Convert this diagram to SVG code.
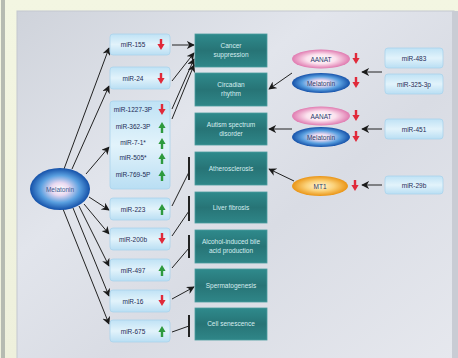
<svg xmlns="http://www.w3.org/2000/svg" width="458" height="358" viewBox="0 0 458 358">
<defs>
<linearGradient id="bg" x1="0" y1="0" x2="0" y2="1"><stop offset="0" stop-color="#f3f6e2"/><stop offset="1" stop-color="#eef0dc"/></linearGradient>
<linearGradient id="panel" x1="0" y1="0" x2="1" y2="1"><stop offset="0" stop-color="#cfd3db"/><stop offset="0.35" stop-color="#e2e5ec"/><stop offset="0.6" stop-color="#d9dce4"/><stop offset="1" stop-color="#e6e8ee"/></linearGradient>
<linearGradient id="mir" x1="0" y1="0" x2="0" y2="1"><stop offset="0" stop-color="#bfe2f5"/><stop offset="0.5" stop-color="#e2f3fb"/><stop offset="1" stop-color="#b9def3"/></linearGradient>
<linearGradient id="teal" x1="0" y1="0" x2="0" y2="1"><stop offset="0" stop-color="#2f8a8c"/><stop offset="0.5" stop-color="#277476"/><stop offset="1" stop-color="#2f8688"/></linearGradient>
<radialGradient id="blue" cx="0.5" cy="0.5" r="0.5"><stop offset="0" stop-color="#ffffff"/><stop offset="0.3" stop-color="#e9d8f0"/><stop offset="0.65" stop-color="#5aa0e0"/><stop offset="1" stop-color="#1450a8"/></radialGradient>
<radialGradient id="pink" cx="0.5" cy="0.5" r="0.5"><stop offset="0" stop-color="#ffffff"/><stop offset="0.5" stop-color="#fbe2ee"/><stop offset="1" stop-color="#e07ab0"/></radialGradient>
<radialGradient id="orange" cx="0.5" cy="0.5" r="0.5"><stop offset="0" stop-color="#fff6d8"/><stop offset="0.5" stop-color="#fbd27a"/><stop offset="1" stop-color="#ea9414"/></radialGradient>
<marker id="ah" viewBox="0 0 10 10" refX="9" refY="5" markerWidth="8" markerHeight="8" markerUnits="userSpaceOnUse" orient="auto"><path d="M0,0 L10,5 L0,10 L3,5 z" fill="#1a1a1a"/></marker>
<path id="dn" d="M-1.2,-6 h2.4 v5 h2.4 l-3.6,6 l-3.6,-6 h2.4 z"/>
<path id="up" d="M-1.2,6 h2.4 v-5 h2.4 l-3.6,-6 l-3.6,6 h2.4 z"/>
</defs>
<style>
.mirbox{fill:url(#mir);stroke:#a9d3ec;stroke-width:0.8}
.tbox{fill:url(#teal);stroke:#4a9c9e;stroke-width:0.8}
.mt{font-family:"Liberation Sans",Arial,sans-serif;font-size:6.5px;fill:#1d2b55;text-anchor:middle}
.tt{font-family:"Liberation Sans",Arial,sans-serif;font-size:6.5px;fill:#d6eef0;text-anchor:middle}
.et{font-family:"Liberation Sans",Arial,sans-serif;font-size:6.5px;fill:#2a3a6a;text-anchor:middle}
.red{fill:#e02a3a}
.grn{fill:#2e9a3e}
.c{fill:none;stroke:#222;stroke-width:1}
.a{marker-end:url(#ah)}
.bar{fill:none;stroke:#222;stroke-width:2}
</style>
<rect width="458" height="358" fill="url(#bg)"/>
<rect x="1" y="0" width="4" height="358" fill="#b6bbb2"/>
<rect x="17" y="11" width="437" height="350" fill="url(#panel)" stroke="#c4c8d0" stroke-width="1"/>
<rect x="452" y="11" width="6" height="347" fill="#c9ccd4"/>

<g id="connectors">
<path class="c a" d="M64,169 L109,48"/>
<path class="c a" d="M72,169 L109,86"/>
<path class="c a" d="M86,174 L109,147"/>
<path class="c a" d="M89,197 L109,210"/>
<path class="c a" d="M84,204 L109,234"/>
<path class="c a" d="M79,206 L109,266"/>
<path class="c a" d="M73,208 L109,296"/>
<path class="c a" d="M63,209 L109,324"/>
<path class="c a" d="M172,45 L194,45"/>
<path class="c a" d="M172,81 L194,53"/>
<path class="c a" d="M172,109 L194,59"/>
<path class="c a" d="M172,119 L194,65"/>
<path class="c" d="M172,206 L189,172"/><path class="bar" d="M189,157 V180"/>
<path class="c" d="M172,236 L189,211"/><path class="bar" d="M189,196 V221"/>
<path class="c" d="M172,268 L189,248"/><path class="bar" d="M189,235 V258"/>
<path class="c a" d="M172,299 L194,287"/>
<path class="c" d="M172,332 L189,326"/><path class="bar" d="M189,315 V337"/>
<path class="c a" d="M382,72 L362,72"/>
<path class="c a" d="M292,73 L269,89"/>
<path class="c a" d="M382,129 L362,129"/>
<path class="c a" d="M292,129 L269,129"/>
<path class="c a" d="M382,185 L362,185"/>
<path class="c a" d="M294,181 L269,169"/>
</g>

<g id="melatonin-main"><ellipse cx="60" cy="189" rx="30" ry="21" fill="url(#blue)"/><text class="et" x="60" y="191.5" style="fill:#3a5a90">Melatonin</text></g>

<g id="mir155"><rect class="mirbox" x="110" y="34" width="60" height="21" rx="3"/><text class="mt" x="133" y="47">miR-155</text><use href="#dn" x="161" y="45" class="red"/></g>
<g id="mir24"><rect class="mirbox" x="110" y="67" width="60" height="22" rx="3"/><text class="mt" x="133" y="80.5">miR-24</text><use href="#dn" x="161" y="79" class="red"/></g>
<g id="mirgroup"><rect class="mirbox" x="110" y="101" width="60" height="88" rx="3"/>
<text class="mt" x="133" y="112">miR-1227-3P</text><use href="#dn" x="162" y="110" class="red"/>
<text class="mt" x="133" y="129">miR-362-3P</text><use href="#up" x="162" y="127" class="grn"/>
<text class="mt" x="133" y="145">miR-7-1*</text><use href="#up" x="162" y="143" class="grn"/>
<text class="mt" x="133" y="160">miR-505*</text><use href="#up" x="162" y="158" class="grn"/>
<text class="mt" x="133" y="177">miR-769-5P</text><use href="#up" x="162" y="175" class="grn"/></g>
<g id="mir223"><rect class="mirbox" x="110" y="198" width="60" height="22" rx="3"/><text class="mt" x="133" y="211.5">miR-223</text><use href="#up" x="162" y="209" class="grn"/></g>
<g id="mir200b"><rect class="mirbox" x="110" y="228" width="60" height="22" rx="3"/><text class="mt" x="133" y="241.5">miR-200b</text><use href="#dn" x="162" y="239" class="red"/></g>
<g id="mir497"><rect class="mirbox" x="110" y="259" width="60" height="22" rx="3"/><text class="mt" x="133" y="272.5">miR-497</text><use href="#up" x="162" y="270" class="grn"/></g>
<g id="mir16"><rect class="mirbox" x="110" y="290" width="60" height="22" rx="3"/><text class="mt" x="133" y="303.5">miR-16</text><use href="#dn" x="162" y="301" class="red"/></g>
<g id="mir675"><rect class="mirbox" x="110" y="320" width="60" height="22" rx="3"/><text class="mt" x="133" y="333.5">miR-675</text><use href="#up" x="162" y="331" class="grn"/></g>

<g id="cancer"><rect class="tbox" x="195" y="34" width="72" height="33"/><text class="tt" x="231" y="48">Cancer</text><text class="tt" x="231" y="57">suppression</text></g>
<g id="circadian"><rect class="tbox" x="195" y="73" width="72" height="33"/><text class="tt" x="231" y="87">Circadian</text><text class="tt" x="231" y="96">rhythm</text></g>
<g id="autism"><rect class="tbox" x="195" y="113" width="72" height="32"/><text class="tt" x="231" y="127">Autism spectrum</text><text class="tt" x="231" y="136">disorder</text></g>
<g id="athero"><rect class="tbox" x="195" y="152" width="72" height="33"/><text class="tt" x="231" y="171">Atherosclerosis</text></g>
<g id="liver"><rect class="tbox" x="195" y="192" width="72" height="31"/><text class="tt" x="231" y="210">Liver fibrosis</text></g>
<g id="alcohol"><rect class="tbox" x="195" y="230" width="72" height="33"/><text class="tt" x="231" y="244">Alcohol-induced bile</text><text class="tt" x="231" y="253">acid production</text></g>
<g id="sperm"><rect class="tbox" x="195" y="269" width="72" height="33"/><text class="tt" x="231" y="288">Spermatogenesis</text></g>
<g id="senescence"><rect class="tbox" x="195" y="308" width="72" height="32"/><text class="tt" x="231" y="326">Cell senescence</text></g>

<g id="aanat1"><ellipse cx="321" cy="59" rx="29" ry="9.5" fill="url(#pink)"/><text class="et" x="321" y="61.5">AANAT</text><use href="#dn" x="356" y="59" class="red"/></g>
<g id="melatonin1"><ellipse cx="321" cy="83" rx="29" ry="10" fill="url(#blue)"/><text class="et" x="321" y="85.5">Melatonin</text><use href="#dn" x="356" y="83" class="red"/></g>
<g id="aanat2"><ellipse cx="321" cy="116" rx="29" ry="9.5" fill="url(#pink)"/><text class="et" x="321" y="118.5">AANAT</text><use href="#dn" x="356" y="116" class="red"/></g>
<g id="melatonin2"><ellipse cx="321" cy="137" rx="29" ry="10" fill="url(#blue)"/><text class="et" x="321" y="139.5">Melatonin</text><use href="#dn" x="356" y="137" class="red"/></g>
<g id="mt1"><ellipse cx="320" cy="186" rx="28" ry="10" fill="url(#orange)"/><text class="et" x="320" y="188.5">MT1</text><use href="#dn" x="355" y="186" class="red"/></g>

<g id="mir483"><rect class="mirbox" x="385" y="48" width="58" height="20" rx="3"/><text class="mt" x="414" y="60.5">miR-483</text></g>
<g id="mir325"><rect class="mirbox" x="385" y="74" width="58" height="20" rx="3"/><text class="mt" x="414" y="86.5">miR-325-3p</text></g>
<g id="mir451"><rect class="mirbox" x="385" y="119" width="58" height="20" rx="3"/><text class="mt" x="414" y="131.5">miR-451</text></g>
<g id="mir29b"><rect class="mirbox" x="385" y="176" width="58" height="18" rx="3"/><text class="mt" x="414" y="187.5">miR-29b</text></g>
</svg>
